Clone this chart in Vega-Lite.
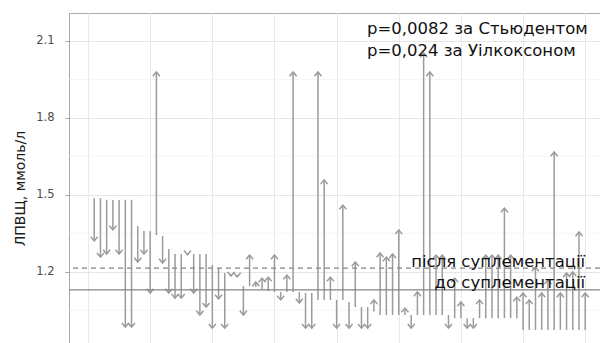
{
  "$schema": "https://vega.github.io/schema/vega-lite/v6.json",
  "autosize": {"type": "none"},
  "padding": {"left": 69, "top": 13, "right": 0, "bottom": 0},
  "width": 531,
  "height": 330,
  "background": "white",
  "config": {
    "view": {"stroke": "#ababab", "strokeWidth": 1},
    "font": "DejaVu Sans"
  },
  "datasets": {
    "subjects": [
      {"i": 1, "before": 1.487, "after": 1.320},
      {"i": 2, "before": 1.487, "after": 1.257},
      {"i": 3, "before": 1.480, "after": 1.269},
      {"i": 4, "before": 1.480, "after": 1.363},
      {"i": 5, "before": 1.480, "after": 1.269},
      {"i": 6, "before": 1.480, "after": 0.984},
      {"i": 7, "before": 1.480, "after": 0.984},
      {"i": 8, "before": 1.378, "after": 1.238},
      {"i": 9, "before": 1.359, "after": 1.269},
      {"i": 10, "before": 1.359, "after": 1.117},
      {"i": 11, "before": 1.343, "after": 1.979},
      {"i": 12, "before": 1.339, "after": 1.234},
      {"i": 13, "before": 1.289, "after": 1.117},
      {"i": 14, "before": 1.269, "after": 1.097},
      {"i": 15, "before": 1.269, "after": 1.097},
      {"i": 16, "before": 1.269, "after": 1.266},
      {"i": 17, "before": 1.269, "after": 1.117},
      {"i": 18, "before": 1.269, "after": 1.031},
      {"i": 19, "before": 1.269, "after": 1.062},
      {"i": 20, "before": 1.226, "after": 0.980},
      {"i": 21, "before": 1.215, "after": 1.094},
      {"i": 22, "before": 1.195, "after": 0.980},
      {"i": 23, "before": 1.191, "after": 1.183},
      {"i": 24, "before": 1.187, "after": 1.180},
      {"i": 25, "before": 1.144, "after": 1.031},
      {"i": 26, "before": 1.144, "after": 1.265},
      {"i": 27, "before": 1.140, "after": 1.160},
      {"i": 28, "before": 1.129, "after": 1.175},
      {"i": 29, "before": 1.125, "after": 1.179},
      {"i": 30, "before": 1.121, "after": 1.265},
      {"i": 31, "before": 1.121, "after": 1.090},
      {"i": 32, "before": 1.121, "after": 1.187},
      {"i": 33, "before": 1.121, "after": 1.979},
      {"i": 34, "before": 1.121, "after": 1.078},
      {"i": 35, "before": 1.117, "after": 0.980},
      {"i": 36, "before": 1.117, "after": 0.980},
      {"i": 37, "before": 1.090, "after": 1.979},
      {"i": 38, "before": 1.090, "after": 1.558},
      {"i": 39, "before": 1.090, "after": 1.179},
      {"i": 40, "before": 1.090, "after": 0.980},
      {"i": 41, "before": 1.090, "after": 1.460},
      {"i": 42, "before": 1.082, "after": 0.980},
      {"i": 43, "before": 1.062, "after": 1.238},
      {"i": 44, "before": 1.062, "after": 0.980},
      {"i": 45, "before": 1.062, "after": 0.980},
      {"i": 46, "before": 1.045, "after": 1.090},
      {"i": 47, "before": 1.031, "after": 1.273},
      {"i": 48, "before": 1.031, "after": 1.257},
      {"i": 49, "before": 1.031, "after": 1.269},
      {"i": 50, "before": 1.031, "after": 1.363},
      {"i": 51, "before": 1.031, "after": 1.058},
      {"i": 52, "before": 1.031, "after": 0.980},
      {"i": 53, "before": 1.031, "after": 1.121},
      {"i": 54, "before": 1.031, "after": 2.053},
      {"i": 55, "before": 1.031, "after": 1.979},
      {"i": 56, "before": 1.031, "after": 1.265},
      {"i": 57, "before": 1.031, "after": 1.265},
      {"i": 58, "before": 1.031, "after": 0.980},
      {"i": 59, "before": 1.019, "after": 1.175},
      {"i": 60, "before": 1.019, "after": 1.082},
      {"i": 61, "before": 1.019, "after": 0.980},
      {"i": 62, "before": 1.019, "after": 0.980},
      {"i": 63, "before": 1.019, "after": 1.090},
      {"i": 64, "before": 1.019, "after": 1.265},
      {"i": 65, "before": 1.019, "after": 1.265},
      {"i": 66, "before": 1.019, "after": 1.265},
      {"i": 67, "before": 1.019, "after": 1.448},
      {"i": 68, "before": 1.019, "after": 1.265},
      {"i": 69, "before": 1.019, "after": 1.101},
      {"i": 70, "before": 0.973, "after": 1.117},
      {"i": 71, "before": 0.973, "after": 1.090},
      {"i": 72, "before": 0.973, "after": 1.218},
      {"i": 73, "before": 0.973, "after": 1.117},
      {"i": 74, "before": 0.973, "after": 1.168},
      {"i": 75, "before": 0.973, "after": 1.667},
      {"i": 76, "before": 0.973, "after": 1.117},
      {"i": 77, "before": 0.973, "after": 1.195},
      {"i": 78, "before": 0.973, "after": 1.199},
      {"i": 79, "before": 0.973, "after": 1.355},
      {"i": 80, "before": 0.973, "after": 1.117}
    ],
    "minor": [{"v": 1.05}, {"v": 1.35}, {"v": 1.65}, {"v": 1.95}],
    "means": [
      {"kind": "після", "v": 1.214},
      {"kind": "до", "v": 1.129}
    ],
    "pvals": [
      {"label": "p=0,0082 за Стьюдентом", "x": 44.9, "y": 2.126},
      {"label": "p=0,024 за Уілкоксоном", "x": 44.9, "y": 2.043}
    ],
    "meanlabels": [
      {"label": "після суплементації", "x": 80.0, "y": 1.218},
      {"label": "до суплементації", "x": 80.0, "y": 1.135}
    ]
  },
  "resolve": {"scale": {"x": "shared", "y": "shared"}},
  "layer": [
    {
      "data": {"name": "minor"},
      "mark": {"type": "rule", "color": "#f1f1f1", "strokeWidth": 0.8},
      "encoding": {
        "y": {
          "field": "v", "type": "quantitative", "title": "ЛПВЩ, ммоль/л",
          "scale": {"domain": [0.922, 2.209], "nice": false, "zero": false},
          "axis": {
            "values": [1.2, 1.5, 1.8, 2.1],
            "format": ".1f",
            "grid": true, "gridColor": "#e6e6e6", "gridWidth": 1,
            "domainColor": "#a6a6a6", "domainWidth": 1,
            "tickColor": "#a6a6a6", "tickSize": 4, "tickWidth": 1,
            "labelFont": "DejaVu Sans", "labelFontSize": 11.5, "labelColor": "#4d4d4d", "labelPadding": 11,
            "title": "ЛПВЩ, ммоль/л",
            "titleFont": "DejaVu Sans", "titleFontSize": 14, "titleFontWeight": "normal", "titleColor": "#1a1a1a",
            "titleAngle": -90, "titleAlign": "center", "titleBaseline": "alphabetic",
            "titleX": -45, "titleY": 175
          }
        }
      }
    },
    {
      "data": {"name": "subjects"},
      "mark": {"type": "rule", "color": "#9b9b9b", "strokeWidth": 1.5},
      "encoding": {
        "x": {
          "field": "i", "type": "quantitative", "title": null,
          "scale": {"domain": [-3.06, 82.38], "nice": false, "zero": false},
          "axis": {
            "values": [0, 10, 20, 30, 40, 50, 60, 70, 80],
            "labels": false, "ticks": false, "domain": false, "grid": true, "gridColor": "#e9e9e9", "gridWidth": 1, "title": null
          }
        },
        "y": {
          "field": "before", "type": "quantitative", "title": "ЛПВЩ, ммоль/л",
          "scale": {"domain": [0.922, 2.209], "nice": false, "zero": false},
          "axis": {
            "values": [1.2, 1.5, 1.8, 2.1],
            "format": ".1f",
            "grid": true, "gridColor": "#e6e6e6", "gridWidth": 1,
            "domainColor": "#a6a6a6", "domainWidth": 1,
            "tickColor": "#a6a6a6", "tickSize": 4, "tickWidth": 1,
            "labelFont": "DejaVu Sans", "labelFontSize": 11.5, "labelColor": "#4d4d4d", "labelPadding": 11,
            "title": "ЛПВЩ, ммоль/л",
            "titleFont": "DejaVu Sans", "titleFontSize": 14, "titleFontWeight": "normal", "titleColor": "#1a1a1a",
            "titleAngle": -90, "titleAlign": "center", "titleBaseline": "alphabetic",
            "titleX": -45, "titleY": 175
          }
        },
        "y2": {"field": "after"}
      }
    },
    {
      "data": {"name": "subjects"},
      "mark": {"type": "point", "filled": false, "opacity": 1, "color": "#9b9b9b", "strokeWidth": 1.5, "size": 49},
      "encoding": {
        "x": {"field": "i", "type": "quantitative", "title": null},
        "y": {"field": "after", "type": "quantitative", "title": "ЛПВЩ, ммоль/л"},
        "shape": {
          "condition": {"test": "datum.after > datum.before", "value": "M-1,1.2L0,0L1,1.2"},
          "value": "M-1,-1.2L0,0L1,-1.2"
        }
      }
    },
    {
      "data": {"name": "means"},
      "mark": {"type": "rule", "color": "#858585", "strokeWidth": 1.3},
      "encoding": {
        "y": {"field": "v", "type": "quantitative", "title": "ЛПВЩ, ммоль/л"},
        "strokeDash": {"field": "kind", "type": "nominal", "scale": {"domain": ["після", "до"], "range": [[5, 4], [1, 0]]}, "legend": null}
      }
    },
    {
      "data": {"name": "pvals"},
      "mark": {"type": "text", "align": "left", "baseline": "alphabetic", "font": "DejaVu Sans", "fontSize": 16.5, "color": "#111111"},
      "encoding": {
        "x": {"field": "x", "type": "quantitative", "title": null},
        "y": {"field": "y", "type": "quantitative", "title": "ЛПВЩ, ммоль/л"},
        "text": {"field": "label"}
      }
    },
    {
      "data": {"name": "meanlabels"},
      "mark": {"type": "text", "align": "right", "baseline": "alphabetic", "font": "DejaVu Sans", "fontSize": 16.5, "color": "#111111"},
      "encoding": {
        "x": {"field": "x", "type": "quantitative", "title": null},
        "y": {"field": "y", "type": "quantitative", "title": "ЛПВЩ, ммоль/л"},
        "text": {"field": "label"}
      }
    }
  ]
}
